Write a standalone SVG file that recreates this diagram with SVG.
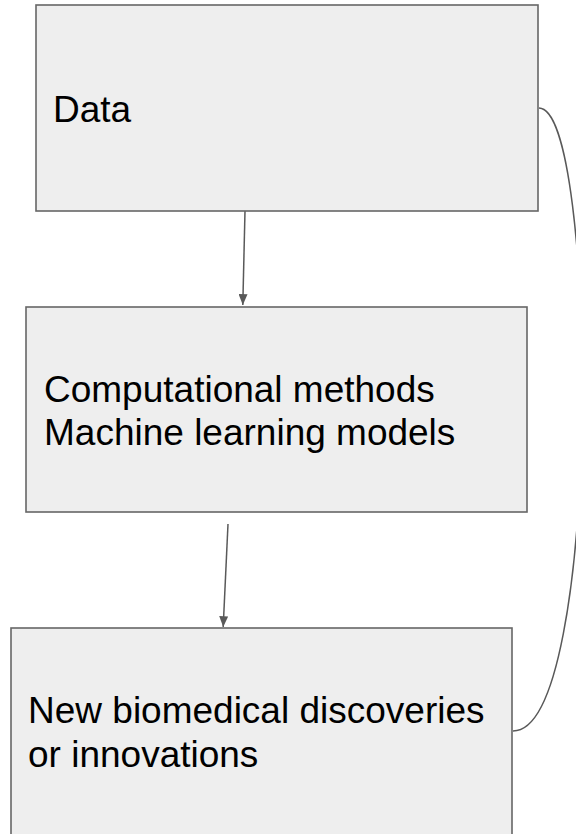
<svg xmlns="http://www.w3.org/2000/svg" width="576" height="834" viewBox="0 0 576 834">
<defs>
<marker id="ah" viewBox="0 0 12 10" refX="12" refY="5" markerWidth="11" markerHeight="9" markerUnits="userSpaceOnUse" orient="auto">
<path d="M0,0 L12,5 L0,10 Z" fill="#595959"/>
</marker>
</defs>
<style>
.box{fill:#eeeeee;stroke:#666666;stroke-width:1.6}
.t{font-family:"Liberation Sans",Arial,sans-serif;font-size:37px;fill:#000000}
.c{fill:none;stroke:#595959;stroke-width:1.5}
</style>
<rect width="576" height="834" fill="#ffffff"/>
<g id="connectors">
<path class="c" d="M245,211 L242.8,305" marker-end="url(#ah)"/>
<path class="c" d="M228,524 L223.2,627" marker-end="url(#ah)"/>
<path class="c" d="M539,108 C598,108 603,731 513,731"/>
</g>
<g id="node-data">
<rect class="box" x="36" y="5" width="502" height="206"/>
<text class="t" x="53" y="122">Data</text>
</g>
<g id="node-methods">
<rect class="box" x="26" y="307" width="501" height="205"/>
<text class="t" x="44" y="402">Computational methods</text>
<text class="t" x="44" y="445">Machine learning models</text>
</g>
<g id="node-discoveries">
<rect class="box" x="11" y="628" width="501" height="220"/>
<text class="t" x="28" y="723">New biomedical discoveries</text>
<text class="t" x="28" y="767">or innovations</text>
</g>
</svg>
